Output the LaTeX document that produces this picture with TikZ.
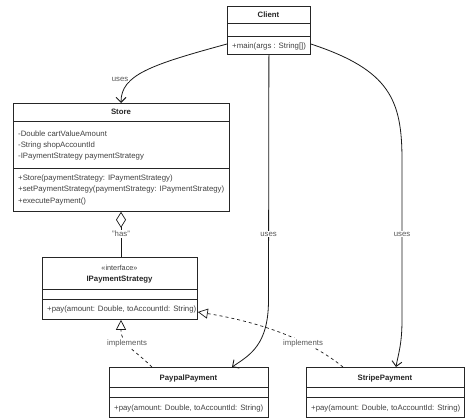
\documentclass[tikz,border=0pt]{standalone}
\usepackage{fontspec}
\setmainfont{Liberation Sans}
\usetikzlibrary{arrows.meta,calc}
\begin{document}
\begin{tikzpicture}[x=1pt,y=-1pt,
  box/.style={draw=black!85, line width=0.8pt, inner sep=0pt, anchor=north west},
  ttl/.style={font=\fontsize{7.8}{9}\selectfont\bfseries, text=black!85, inner sep=0pt},
  txt/.style={font=\fontsize{7.8}{9}\selectfont, text=black!75, anchor=west, inner sep=0pt},
  ster/.style={font=\fontsize{7.3}{9}\selectfont, text=black!75, inner sep=0pt},
  lbl/.style={font=\fontsize{7.8}{9}\selectfont, text=black!65, fill=white, inner sep=1pt},
  divline/.style={draw=black!85, line width=0.8pt},
  uses/.style={-{Straight Barb[length=5pt,width=10pt,line width=0.9pt]}, line width=0.8pt, draw=black!90},
  impl/.style={dash pattern=on 3pt off 3pt, -{Triangle[open,length=10pt,width=10pt,line width=0.7pt]}, line width=0.7pt, draw=black!90},
  agg/.style={{Diamond[open,length=16pt,width=10pt,line width=0.7pt]}-, line width=0.8pt, draw=black!90}
]
\useasboundingbox (0,0) rectangle (474,420);

% Client
\node[box, minimum width=83pt, minimum height=48pt] (client) at (227,6) {};
\draw[divline] (client.west |- 0,23) -- (client.east |- 0,23);
\draw[divline] (client.west |- 0,36) -- (client.east |- 0,36);
\node[ttl] (clientT) at (268.5,15) {Client};
\node[txt] (clientM) at (232,46) {+main(args : String[])};

% Store
\node[box, minimum width=216pt, minimum height=108pt] (store) at (13,103) {};
\draw[divline] (store.west |- 0,121) -- (store.east |- 0,121);
\draw[divline] (store.west |- 0,168) -- (store.east |- 0,168);
\node[ttl] (storeT) at (121,112) {Store};
\node[txt] (storeA1) at (18,134) {-Double cartValueAmount};
\node[txt] (storeA2) at (18,145.5) {-String shopAccountId};
\node[txt] (storeA3) at (18,157) {-IPaymentStrategy paymentStrategy};
\node[txt] (storeM1) at (18,178) {+Store(paymentStrategy: IPaymentStrategy)};
\node[txt] (storeM2) at (18,189.5) {+setPaymentStrategy(paymentStrategy: IPaymentStrategy)};
\node[txt] (storeM3) at (18,201) {+executePayment()};

% IPaymentStrategy
\node[box, minimum width=155pt, minimum height=62pt] (ips) at (42,257) {};
\draw[divline] (ips.west |- 0,289) -- (ips.east |- 0,289);
\draw[divline] (ips.west |- 0,299) -- (ips.east |- 0,299);
\node[ster] (ipsS) at (119.5,268) {«interface»};
\node[ttl] (ipsT) at (119.5,280) {IPaymentStrategy};
\node[txt] (ipsM) at (47,309) {+pay(amount: Double, toAccountId: String)};

% PaypalPayment
\node[box, minimum width=159pt, minimum height=50pt] (paypal) at (109,367) {};
\draw[divline] (paypal.west |- 0,387) -- (paypal.east |- 0,387);
\draw[divline] (paypal.west |- 0,397) -- (paypal.east |- 0,397);
\node[ttl] (paypalT) at (188.5,378) {PaypalPayment};
\node[txt] (paypalM) at (114,408) {+pay(amount: Double, toAccountId: String)};

% StripePayment
\node[box, minimum width=158pt, minimum height=50pt] (stripe) at (306,367) {};
\draw[divline] (stripe.west |- 0,387) -- (stripe.east |- 0,387);
\draw[divline] (stripe.west |- 0,397) -- (stripe.east |- 0,397);
\node[ttl] (stripeT) at (385,378) {StripePayment};
\node[txt] (stripeM) at (311,408) {+pay(amount: Double, toAccountId: String)};

% Connectors
\draw[uses] (client.west |- 0,44) .. controls (150,65) and (121,75) .. (store.north -| 121,0);
\node[lbl] (u1) at (120,79) {uses};

\draw[uses] (client.south) -- (268.5,300) .. controls (268.5,345) and (250,355) .. (paypal.north -| 232,0);
\node[lbl] (u2) at (268.5,234) {uses};

\draw[uses] (client.east |- 0,44) .. controls (390,70) and (402,100) .. (402,160) -- (402,320) .. controls (402,345) and (398,355) .. (stripe.north -| 396,0);
\node[lbl] (u3) at (402,234) {uses};

\draw[agg] (store.south -| 121,0) -- (ips.north -| 121,0);
\node[lbl] (has) at (121,234) {"has"};

\draw[impl] (paypal.north -| 152,0) .. controls (135,350) and (121,345) .. (ips.south -| 121,0);
\node[lbl] (i1) at (127,343) {implements};

\draw[impl] (stripe.north -| 343,0) .. controls (310,340) and (260,322) .. (ips.east |- 0,312);
\node[lbl] (i2) at (303,343) {implements};
\end{tikzpicture}
\end{document}
